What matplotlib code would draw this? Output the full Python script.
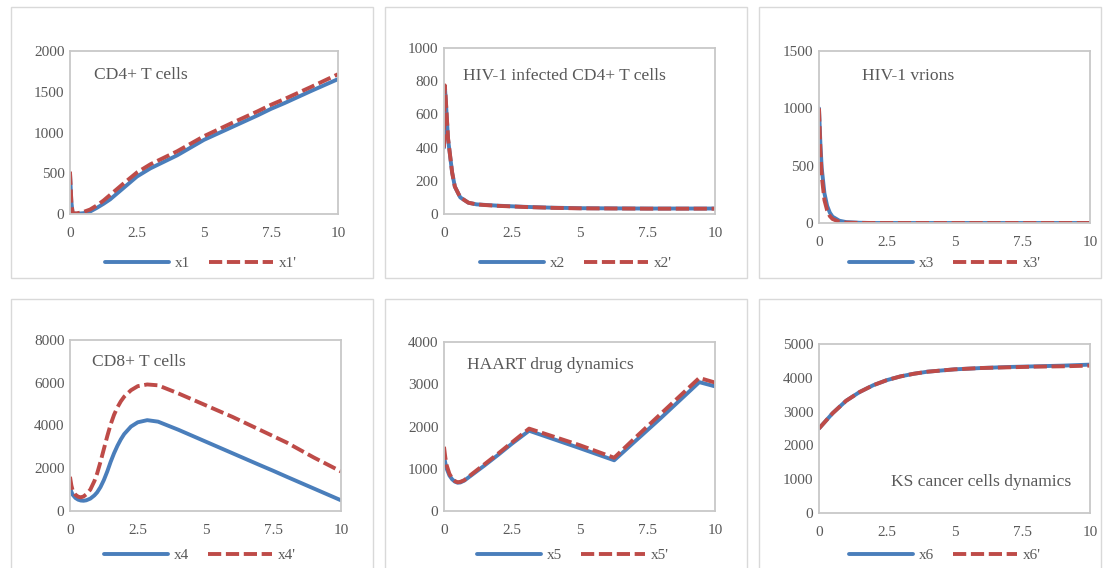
import numpy as np
import matplotlib
matplotlib.use("Agg")
import matplotlib.pyplot as plt
from matplotlib.patches import Rectangle

# data (time 0..10)
t1 = [0, 0.05, 0.1, 0.25, 0.5, 0.75, 1, 1.25, 1.5, 1.75, 2, 2.5, 3, 3.5, 4, 5, 6, 7, 7.5, 8, 9, 10]
x1 = [500, 150, 5, 3, 10, 30, 75, 125, 180, 250, 320, 460, 560, 640, 720, 910, 1060, 1210, 1290, 1360, 1510, 1655]
x1p = [520, 150, 8, 8, 25, 55, 105, 165, 235, 305, 375, 510, 610, 690, 770, 955, 1110, 1260, 1340, 1410, 1560, 1715]

t2 = [0, 0.03, 0.06, 0.15, 0.3, 0.4, 0.6, 0.9, 1.2, 1.5, 2, 3, 4, 5, 7.5, 10]
x2 = [400, 770, 700, 450, 250, 165, 100, 68, 58, 55, 50, 43, 38, 35, 33, 33]
x2p = [400, 775, 710, 455, 250, 165, 100, 68, 58, 54, 49, 42, 37, 34, 32, 32]

t3 = [0, 0.05, 0.1, 0.2, 0.3, 0.4, 0.5, 0.75, 1, 1.5, 2, 5, 10]
x3 = [1000, 700, 480, 260, 150, 90, 55, 20, 8, 2, 0, 0, 0]
x3p = [1000, 640, 410, 200, 110, 60, 35, 10, 3, 1, 0, 0, 0]

t4 = [0, 0.05, 0.1, 0.2, 0.3, 0.4, 0.5, 0.6, 0.75, 0.9, 1, 1.125, 1.25, 1.375, 1.5, 1.625, 1.75, 1.875, 2, 2.25, 2.5, 2.85,
      3.25, 4, 5, 6, 7, 7.5, 8, 9, 10]
x4 = [1100, 900, 760, 610, 530, 490, 480, 500, 580, 730, 870, 1120, 1450, 1850, 2300, 2700, 3050, 3350, 3600, 3950, 4150, 4250,
      4180, 3800, 3250, 2700, 2150, 1880, 1600, 1050, 500]
x4p = [1600, 1200, 950, 760, 670, 640, 680, 780, 1000, 1400, 1750, 2300, 2900, 3500, 4050, 4500, 4850, 5130, 5350, 5650, 5840, 5920,
       5880, 5500, 4950, 4400, 3800, 3500, 3200, 2500, 1850]

t5 = [0, 0.05, 0.1, 0.2, 0.3, 0.4, 0.5, 0.6, 0.75, 1, 1.5, 2, 2.5, 3.14, 4, 5, 6.28, 7, 8, 9.42, 10]
x5 = [1300, 1130, 1000, 840, 750, 695, 670, 675, 720, 840, 1080, 1330, 1590, 1900, 1710, 1490, 1200, 1620, 2200, 3050, 2950]
x5p = [1520, 1260, 1080, 880, 770, 710, 680, 690, 730, 860, 1110, 1360, 1620, 1950, 1770, 1560, 1260, 1700, 2300, 3150, 3040]

t6 = [0, 0.5, 1, 1.5, 2, 2.5, 3, 3.5, 4, 5, 6, 7, 8, 9, 10]
x6 = [2500, 2950, 3320, 3580, 3780, 3930, 4040, 4120, 4180, 4250, 4290, 4320, 4340, 4360, 4390]
x6p = [2500, 2950, 3320, 3580, 3780, 3930, 4040, 4120, 4180, 4250, 4290, 4310, 4330, 4340, 4360]

titles = ["CD4+ T cells", "HIV-1 infected CD4+ T cells", "HIV-1 vrions",
          "CD8+ T cells", "HAART drug dynamics", "KS cancer cells dynamics"]
names = ["x1", "x2", "x3", "x4", "x5", "x6"]
ymax = [2000, 1000, 1500, 8000, 4000, 5000]
ystep = [500, 200, 500, 2000, 1000, 1000]
xticks = [0, 2.5, 5, 7.5, 10]
xlabels = ["0", "2.5", "5", "7.5", "10"]

series = [(t1, x1, x1p), (t2, x2, x2p), (t3, x3, x3p),
          (t4, x4, x4p), (t5, x5, x5p), (t6, x6, x6p)]

W, H = 1103, 568
BLUE = "#4A7EBB"
RED = "#BE4B48"
GREY = "#595959"

plt.rcParams["font.family"] = ["Liberation Serif", "DejaVu Serif"]

fig = plt.figure(figsize=(W / 100, H / 100), dpi=100)

# pixel boxes: plot area (left, top, right, bottom), outer frame, legend centre, title pos
plot_px = [(70, 51, 338, 214), (444, 48, 715, 214), (819, 51, 1090, 223),
           (70, 340, 341, 511), (444, 342, 715, 511), (819, 344, 1090, 513)]
frame_px = [(11, 7, 373, 278), (385, 7, 747, 278), (759, 7, 1101, 278),
            (11, 299, 373, 600), (385, 299, 747, 600), (759, 299, 1101, 600)]
legend_px = [(201, 263), (576, 263), (945, 263), (200, 555), (573, 555), (945, 555)]
title_pos = [(0.09, 0.85), (0.07, 0.83), (0.16, 0.855), (0.08, 0.87), (0.085, 0.864), (0.266, 0.183)]

for (l, t, r, b) in frame_px:
    fig.patches.append(Rectangle((l / W, 1 - b / H), (r - l) / W, (b - t) / H,
                                 transform=fig.transFigure, fill=False,
                                 edgecolor="#D9D9D9", lw=1.0))

for i in range(6):
    l, t, r, b = plot_px[i]
    ax = fig.add_axes([l / W, 1 - b / H, (r - l) / W, (b - t) / H])
    tt, a, ap = series[i]
    ax.plot(tt, a, color=BLUE, lw=2.8, label=names[i], solid_capstyle="round")
    ax.plot(tt, ap, color=RED, lw=2.8, dashes=(3.4, 1.2), label=names[i] + "'")
    ax.set_xlim(0, 10)
    ax.set_ylim(0, ymax[i])
    ax.set_xticks(xticks)
    ax.set_xticklabels(xlabels)
    ax.set_yticks(np.arange(0, ymax[i] + 1, ystep[i]))
    ax.tick_params(length=0, labelsize=11, labelcolor=GREY)
    ax.tick_params(axis="x", pad=9)
    ax.tick_params(axis="y", pad=4)
    for s in ax.spines.values():
        s.set_color("#C8C8C8")
        s.set_linewidth(1.3)
    ax.text(title_pos[i][0], title_pos[i][1], titles[i], transform=ax.transAxes,
            fontsize=12.6, color=GREY, va="center", ha="left")
    lx, ly = legend_px[i]
    ax.legend(loc="center", bbox_to_anchor=(lx / W, 1 - ly / H),
              bbox_transform=fig.transFigure, ncol=2, frameon=False,
              fontsize=11, labelcolor=GREY, handlelength=4.2,
              handletextpad=0.4, columnspacing=1.2)

fig.savefig("out.png", dpi=100)
